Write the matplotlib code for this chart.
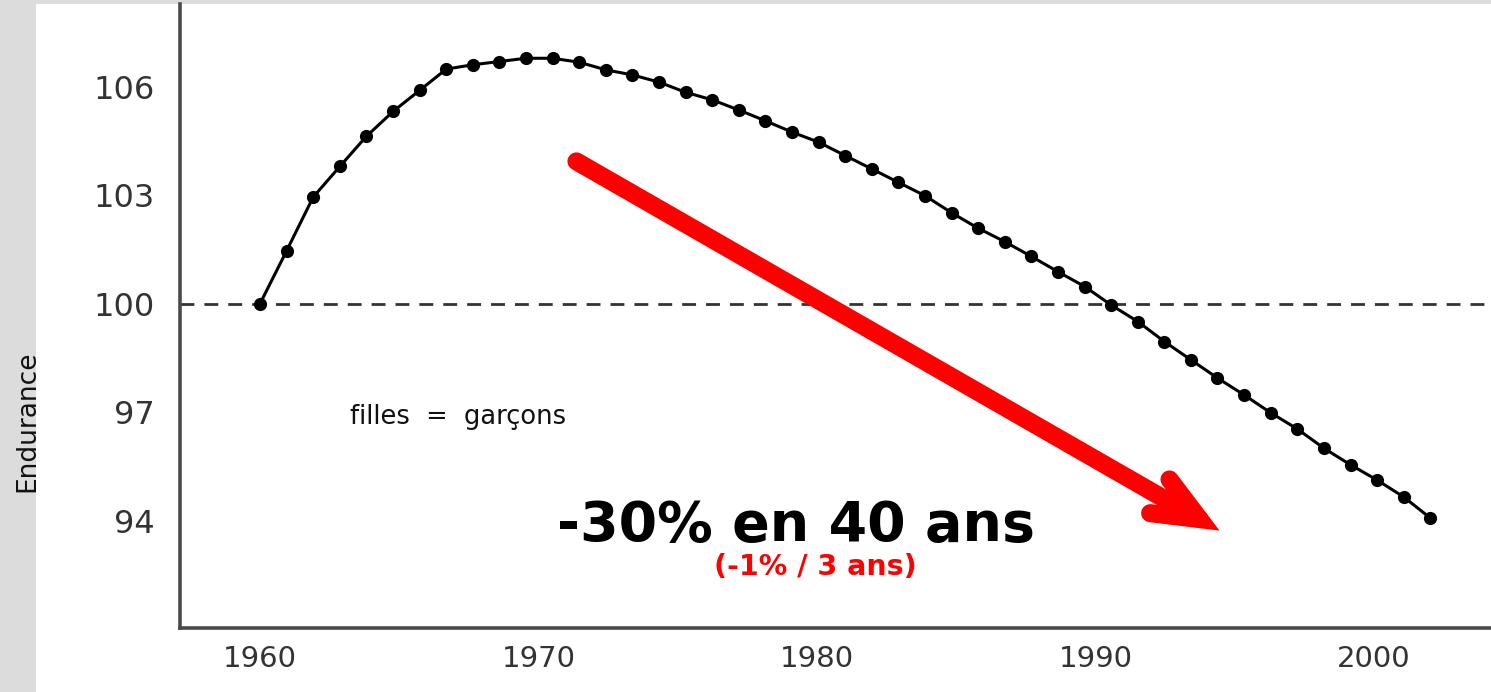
import matplotlib
matplotlib.use("Agg")
import matplotlib.pyplot as plt
from matplotlib import font_manager
from matplotlib.patches import FancyArrowPatch, Rectangle

# values
years = [
    1960.00, 1960.96, 1961.91, 1962.87, 1963.82, 1964.78, 1965.73, 1966.69,
    1967.64, 1968.60, 1969.55, 1970.51, 1971.46, 1972.42, 1973.37, 1974.33,
    1975.28, 1976.24, 1977.19, 1978.15, 1979.10, 1980.06, 1981.01, 1981.97,
    1982.92, 1983.88, 1984.83, 1985.79, 1986.74, 1987.70, 1988.65, 1989.61,
    1990.56, 1991.52, 1992.47, 1993.43, 1994.38, 1995.34, 1996.29, 1997.25,
    1998.20, 1999.16, 2000.11, 2001.07, 2002.02,
]
endurance = [
    100.00, 101.47, 102.95, 103.80, 104.63, 105.32, 105.90, 106.49,
    106.61, 106.70, 106.79, 106.79, 106.68, 106.47, 106.33, 106.13,
    105.85, 105.64, 105.36, 105.06, 104.75, 104.47, 104.10, 103.73,
    103.36, 102.99, 102.52, 102.09, 101.72, 101.31, 100.89, 100.48,
    99.97, 99.51, 98.96, 98.45, 97.95, 97.48, 96.99, 96.54,
    96.01, 95.55, 95.13, 94.66, 94.08,
]
baseline = 100
x_ticks = [1960, 1970, 1980, 1990, 2000]
y_ticks = [94, 97, 100, 103, 106]

W, H = 1491, 692


def narrow_font():
    # a condensed face for the y label if one is installed
    names = {f.name for f in font_manager.fontManager.ttflist}
    for name in ("Liberation Sans Narrow", "DejaVu Sans Condensed"):
        if name in names:
            return [name], 22
    return ["DejaVu Sans"], 19


fig = plt.figure(figsize=(W / 100, H / 100), dpi=100, facecolor="#dcdcdc")

# white slide panel over the grey border
fig.add_artist(Rectangle((36 / W, 0), 1 - 36 / W, 1 - 4 / H,
                         transform=fig.transFigure, facecolor="white",
                         edgecolor="none", zorder=0))

ax = fig.add_axes([180 / W, 1 - 628 / H, 1 - 180 / W, (628 - 4) / H])
ax.set_facecolor("none")
ax.set_xlim(1957.13, 2004.2)
ax.set_ylim(91.04, 108.29)

ax.axhline(baseline, color="#333333", linewidth=2, dashes=(5, 3.6), zorder=2)
ax.plot(years, endurance, color="black", linewidth=2.2, marker="o",
        markersize=9.5, markeredgewidth=0, zorder=3)

for side in ("top", "right"):
    ax.spines[side].set_visible(False)
for side in ("left", "bottom"):
    ax.spines[side].set_color("#4a4a4a")
    ax.spines[side].set_linewidth(2.6)

ax.set_xticks(x_ticks)
ax.set_yticks(y_ticks)
ax.tick_params(axis="x", length=0, pad=12, labelsize=21, labelcolor="#333333")
ax.tick_params(axis="y", length=0, pad=18, labelsize=23, labelcolor="#333333")
for lab in ax.get_xticklabels() + ax.get_yticklabels():
    lab.set_family(["DejaVu Sans"])

fam, size = narrow_font()
fig.text(27 / W, 1 - 421 / H, "Endurance", rotation=90, ha="center",
         va="center", fontsize=size, color="#111111", family=fam)

fig.text(350 / W, 1 - 417 / H, "filles  =  garçons", ha="left", va="center",
         fontsize=18.5, color="#111111", family=["DejaVu Sans"])

fig.text(796 / W, 1 - 541 / H, "-30% en 40 ans", ha="center", va="baseline",
         fontsize=40, fontweight="bold", color="black", family=["DejaVu Sans"])
fig.text(815 / W, 1 - 575 / H, "(-1% / 3 ans)", ha="center", va="baseline",
         fontsize=20.5, fontweight="bold", color="#ff0000", family=["DejaVu Sans"])

arrow = FancyArrowPatch(
    (574 / W, 1 - 160 / H), (1222 / W, 1 - 532 / H),
    transform=fig.transFigure,
    arrowstyle="->,head_length=33,head_width=14",
    mutation_scale=1,
    linewidth=13,
    color="#ff0000",
    capstyle="round",
    joinstyle="miter",
    zorder=5,
)
fig.add_artist(arrow)

fig.savefig("out.png", dpi=100, facecolor=fig.get_facecolor())
